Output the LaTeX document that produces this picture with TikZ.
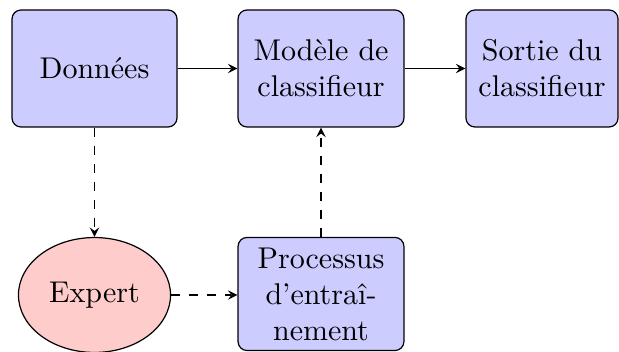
\documentclass[tikz,border=0pt]{standalone}
\usetikzlibrary{shapes.geometric,arrows}
\begin{document}
\begin{tikzpicture}[x=0.33333pt,y=-0.33333pt,
  blk/.style={draw, fill=blue!20, rounded corners=3pt, align=center, inner sep=0pt, minimum height=39pt},
  expt/.style={draw, fill=red!20, ellipse, inner sep=0pt, minimum width=50.7pt, minimum height=38.3pt},
  arr/.style={-stealth, line width=0.4pt},
  darr/.style={-stealth, dashed, line width=0.4pt}]
\useasboundingbox (0,0) rectangle (619,352);
\node[blk, minimum width=55pt] (don) at (94.5,68.5) {Données};
\node[blk, minimum width=55.3pt] (mod) at (321,68.5) {Modèle de\\classifieur};
\node[blk, minimum width=50.7pt] (sor) at (542,68.5) {Sortie du\\classifieur};
\node[expt] (exp) at (94.5,295) {Expert};
\node[blk, minimum width=55.3pt, minimum height=37.7pt] (proc) at (321,294) {Processus\\d’entraî-\\nement};
\draw[arr] (don) -- (mod);
\draw[arr] (mod) -- (sor);
\draw[darr] (don) -- (exp);
\draw[darr] (exp) -- (proc.west |- exp);
\draw[darr] (proc) -- (mod);
\end{tikzpicture}
\end{document}
